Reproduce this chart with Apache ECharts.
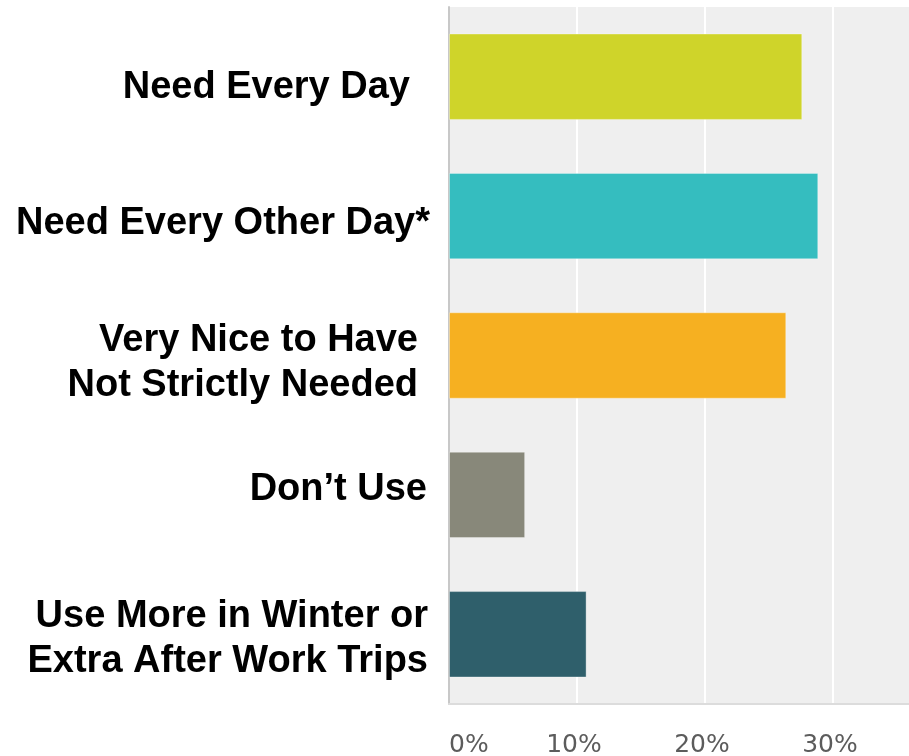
<!DOCTYPE html>
<html>
<head>
<meta charset="utf-8">
<script src="https://cdn.jsdelivr.net/npm/echarts@6/dist/echarts.min.js"></script>
<style>
  html, body { margin: 0; padding: 0; background: #ffffff; }
  #chart { width: 909px; height: 756px; }
</style>
</head>
<body>
<div id="chart"></div>
<script>
// Survey responses: how often the service is needed
const categories = [
  'Need Every Day',
  'Need Every Other Day*',
  'Very Nice to Have\nNot Strictly Needed',
  'Don\u2019t Use',
  'Use More in Winter or\nExtra After Work Trips'
];
const percentages = [27.6, 28.85, 26.35, 5.95, 10.75];
const barColors = ['#cfd42a', '#35bdbf', '#f6b021', '#88887a', '#2f5f6b'];
const tickValues = [0, 10, 20, 30, 40];

// per-caption nudges for the hand-placed category labels: [shiftDown, rightGap]
const labelNudges = [[11, 20], [7, 0], [8, 12], [-5, 3], [5, 2]];

const chart = echarts.init(document.getElementById('chart'));

// rich styles: a thin spacer line above (or below) a caption moves it down (or up)
const rich = {};
labelNudges.forEach(([dy, dr], i) => {
  rich['t' + i] = {
    fontFamily: 'Liberation Sans', fontWeight: 'bold', fontSize: 38,
    lineHeight: 45, color: '#000000', align: 'right',
    padding: [0, dr, 0, 0]
  };
  rich['s' + i] = {
    fontSize: 1, lineHeight: Math.max(1, 2 * Math.abs(dy)), color: 'rgba(0,0,0,0)'
  };
});

chart.setOption({
  animation: false,
  grid: {
    left: 449, top: 7, width: 512, bottom: 52,
    outerBoundsMode: 'none',
    containLabel: false,
    show: true, backgroundColor: '#efefef', borderWidth: 0
  },
  xAxis: {
    type: 'value',
    min: tickValues[0],
    max: tickValues[tickValues.length - 1],
    interval: 10,
    axisLine: { show: true, lineStyle: { color: '#dcdcdc', width: 2 } },
    axisTick: { show: false },
    splitLine: { show: true, lineStyle: { color: '#ffffff', width: 2 } },
    axisLabel: {
      formatter: v => v + '%',
      color: '#5c5c5c',
      fontFamily: 'DejaVu Sans',
      fontSize: 25,
      margin: 29,
      padding: [0, 6, 0, 0],
      alignMinLabel: 'left'
    }
  },
  yAxis: {
    type: 'category',
    inverse: true,
    data: categories,
    axisLine: { show: true, lineStyle: { color: '#c8c8c8', width: 2 } },
    axisTick: { show: false },
    splitLine: { show: false },
    axisLabel: {
      margin: 19,
      align: 'right',
      formatter: (value, index) => {
        const dy = labelNudges[index][0];
        const lines = value.split('\n').map(ln => '{t' + index + '|' + ln + '}');
        const spacer = '{s' + index + '| }';
        if (dy > 0) lines.unshift(spacer);
        else if (dy < 0) lines.push(spacer);
        return lines.join('\n');
      },
      rich: rich
    }
  },
  series: [{
    type: 'bar',
    barWidth: '62%',
    data: percentages.map((v, i) => ({
      value: v,
      itemStyle: { color: barColors[i] }
    })),
    itemStyle: { borderColor: 'rgba(255,255,255,0.35)', borderWidth: 1 }
  }]
});
</script>
</body>
</html>
